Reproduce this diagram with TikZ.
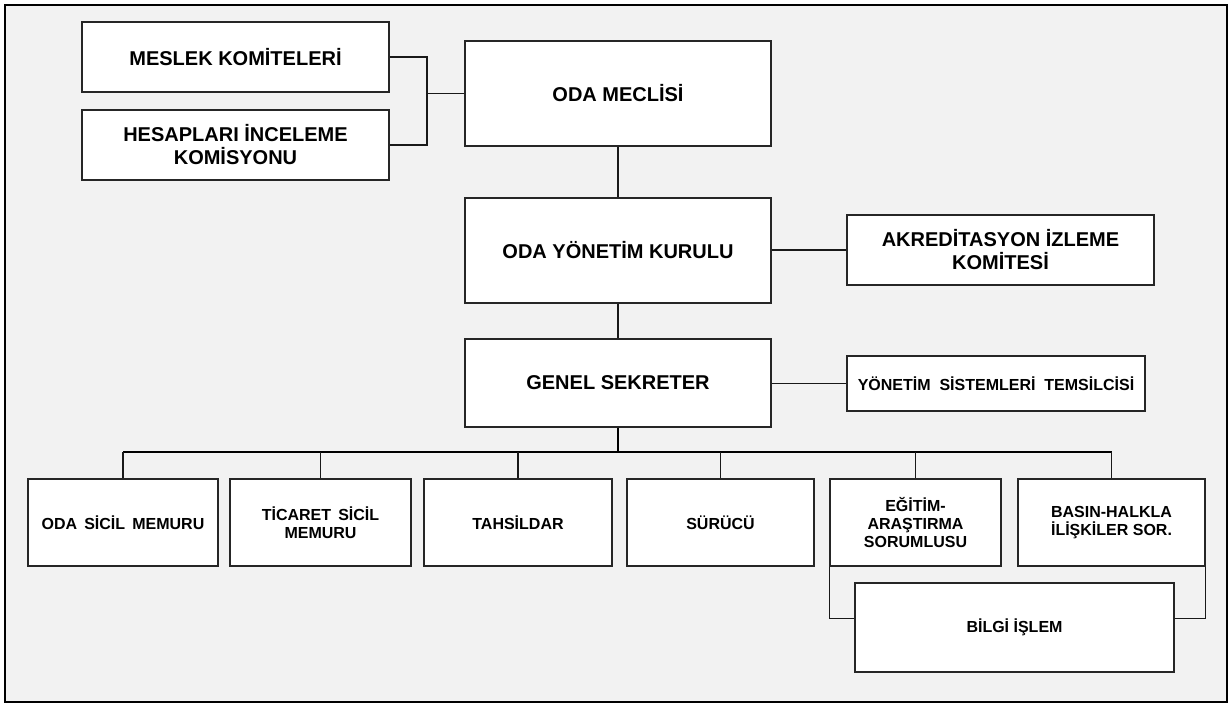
\documentclass[tikz,border=0pt]{standalone}
\usepackage{fontspec}
\setmainfont{Liberation Sans}
\usetikzlibrary{calc}
\tikzset{
  box/.style={draw=black!85, line width=1.4pt, fill=white, align=center, inner sep=2pt,
    font=\bfseries\fontsize{20}{23}\selectfont},
  sbox/.style={box, font=\bfseries\fontsize{16}{18}\selectfont},
  conn/.style={draw=black!90, line width=1.2pt},
  tconn/.style={draw=black, line width=1.8pt},
}
\begin{document}
\begin{tikzpicture}[x=1pt,y=-1pt]
\useasboundingbox (0,0) rectangle (1232,706);
\draw[line width=2pt, fill=black!5] (5,5) rectangle (1227,702);

% top group
\node[box, minimum width=307, minimum height=70] (mk) at (235.5,57) {MESLEK KOMİTELERİ};
\node[box, minimum width=307, minimum height=70] (hic) at (235.5,145) {HESAPLARI İNCELEME\\KOMİSYONU};
\node[box, minimum width=306, minimum height=105] (om) at (618,93.5) {ODA MECLİSİ};
\node[box, minimum width=306, minimum height=105] (oyk) at (618,250.5) {ODA YÖNETİM KURULU};
\node[box, minimum width=307, minimum height=70] (akr) at (1000.5,250) {AKREDİTASYON İZLEME\\KOMİTESİ};
\node[box, minimum width=306, minimum height=88] (gs) at (618,383) {GENEL SEKRETER};
\node[sbox, minimum width=298, minimum height=55] (yst) at (996,383.5) {YÖNETİM\ \ SİSTEMLERİ\ \ TEMSİLCİSİ};

% bottom row
\node[sbox, minimum width=190, minimum height=87] (os) at (123,522.5) {ODA\ \,SİCİL\ \,MEMURU};
\node[sbox, minimum width=181, minimum height=87] (tsm) at (320.5,522.5) {TİCARET\ \,SİCİL\\MEMURU};
\node[sbox, minimum width=188, minimum height=87] (tah) at (518,522.5) {TAHSİLDAR};
\node[sbox, minimum width=187, minimum height=87] (sur) at (720.5,522.5) {SÜRÜCÜ};
\node[sbox, minimum width=171, minimum height=87] (egt) at (915.5,522.5) {EĞİTİM-\\ARAŞTIRMA\\SORUMLUSU};
\node[sbox, minimum width=187, minimum height=87] (bas) at (1111.5,522.5) {BASIN-HALKLA\\İLİŞKİLER SOR.};
\node[sbox, minimum width=319, minimum height=89] (bil) at (1014.5,627.5) {BİLGİ İŞLEM};

% connectors
\coordinate (j) at (427,93.5);
\draw[conn] (mk.east) -- (mk.east -| j) |- (hic.east);
\draw[conn] (om.west) -- (om.west -| j);
\draw[conn] (om.south) -- (oyk.north);
\draw[conn] (oyk.south) -- (gs.north);
\draw[conn] (oyk.east |- akr.west) -- (akr.west);
\draw[conn] (gs.east |- yst.west) -- (yst.west);

\coordinate (bus) at (618,452);
\draw[tconn] (gs.south) -- (bus);
\draw[tconn] (os.north |- bus) -- (bas.north |- bus);
\foreach \n in {os,tsm,tah,sur,egt,bas}
  \draw[conn] (\n.north) -- (\n.north |- bus);

\coordinate (bl) at ($(bil.north west)!0.4!(bil.south west)$);
\draw[conn] (egt.south west) |- (bl);
\draw[conn] (bas.south east) |- (bl -| bil.east);
\end{tikzpicture}
\end{document}
